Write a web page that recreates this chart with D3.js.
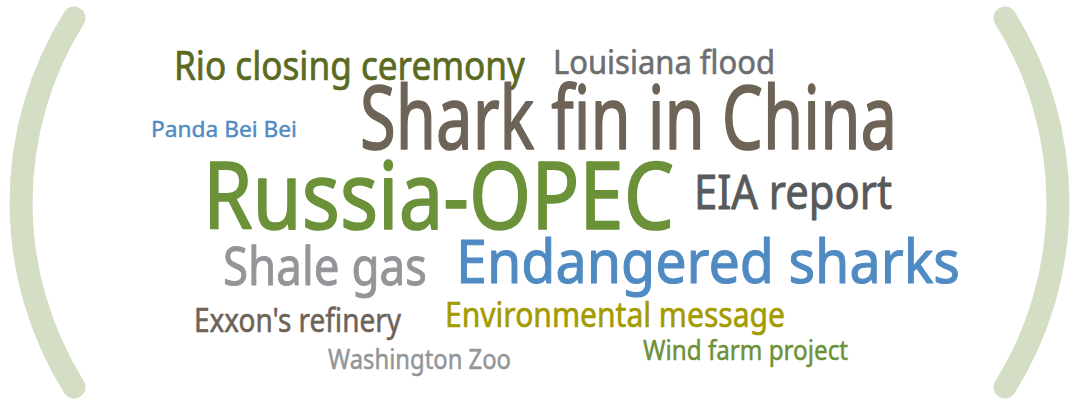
<!DOCTYPE html>
<html>
<head lang="en">
    <meta charset="UTF-8">
    <title>word cloud</title>
    <script type="text/javascript" src="https://d3js.org/d3.v7.min.js"></script>
    <style type="text/css">
        body { margin: 0; background: #fff; }
        .word { font-family: "Noto Sans", sans-serif; paint-order: stroke; stroke-linejoin: round; }
        .paren { fill: none; stroke: #d3dec4; stroke-width: 23; stroke-linecap: round; }
    </style>
</head>
<body>
<script type="text/javascript">
    // data
    var words = ["Rio closing ceremony", "Louisiana flood", "Panda Bei Bei", "Shark fin in China",
                 "Russia-OPEC", "EIA report", "Shale gas", "Endangered sharks",
                 "Exxon's refinery", "Environmental message", "Washington Zoo", "Wind farm project"];
    var weights = [40, 32, 22, 87, 93, 48, 52, 61, 33, 35, 27, 28];
    var groups = ["olive", "grey", "blue", "brown", "green", "dark", "light", "blue",
                  "brown", "yellow", "light", "green"];

    // layout (left, baseline, width) for each word, in the same order
    var place = [[174, 80, 351], [553, 74, 222], [151, 137, 146], [360, 149, 537],
                 [203, 229, 471], [694, 209, 198], [223, 285, 204], [456, 283, 504],
                 [194, 332, 207], [445, 327, 340], [328, 369, 183], [643, 360, 205]];

    var W = 1074, H = 403;
    var svg = d3.select("body").append("svg").attr("width", W).attr("height", H);

    var color = d3.scaleOrdinal()
        .domain(["olive", "grey", "blue", "brown", "green", "dark", "light", "yellow"])
        .range(["#5b6a22", "#6d6e71", "#4f8bc2", "#6e6357", "#6b9139", "#58595b", "#939598", "#a39b00"]);
    var size = d3.scaleLinear().domain([0, 100]).range([0, 100]);

    // brackets
    svg.append("path").attr("class", "paren")
        .attr("d", "M74,18 A348,348 0 0 0 74,387");
    svg.append("path").attr("class", "paren")
        .attr("d", "M1005,18 A348,348 0 0 1 1005,387");

    svg.selectAll("text.word").data(words).enter().append("text")
        .attr("class", "word")
        .attr("x", function(d, i) { return place[i][0]; })
        .attr("y", function(d, i) { return place[i][1]; })
        .attr("textLength", function(d, i) { return place[i][2]; })
        .attr("lengthAdjust", "spacingAndGlyphs")
        .style("font-size", function(d, i) { return size(weights[i]) + "px"; })
        .style("fill", function(d, i) { return color(groups[i]); })
        .style("stroke", function(d, i) { return color(groups[i]); })
        .style("stroke-width", function(d, i) { return size(weights[i]) * 0.018; })
        .text(function(d) { return d; });
</script>
</body>
</html>
